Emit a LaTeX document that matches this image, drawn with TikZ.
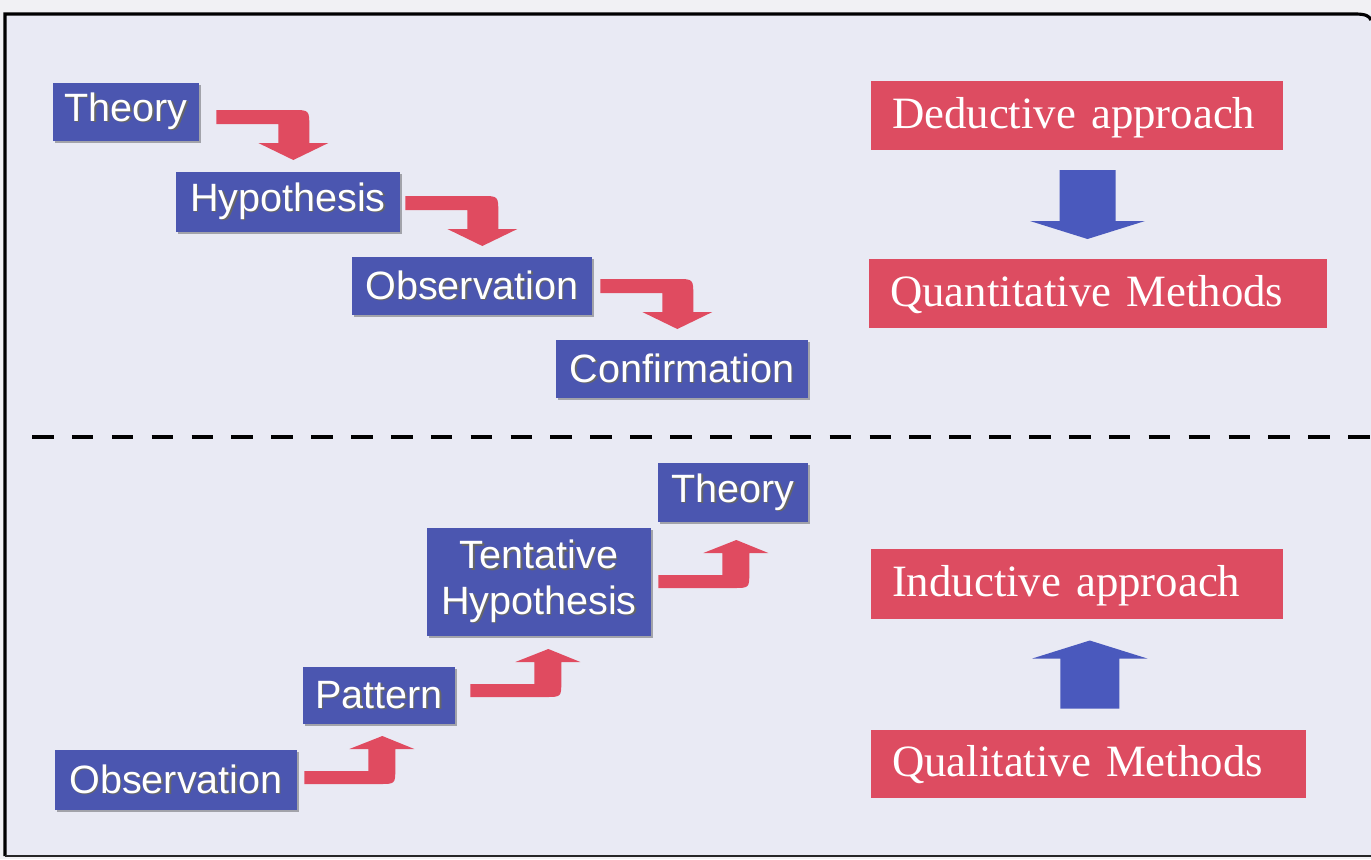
\documentclass[tikz,border=0pt]{standalone}
\usepackage{fontspec}
\setmainfont{Liberation Serif}
\newfontfamily\arialf{Liberation Sans}
\usetikzlibrary{calc,shadows}
\definecolor{paper}{HTML}{F1F1F4}
\definecolor{panel}{HTML}{E9EAF4}
\definecolor{boxblue}{HTML}{4B56B0}
\definecolor{boxred}{HTML}{DD4C61}
\definecolor{arrred}{HTML}{E04B60}
\definecolor{arrblue}{HTML}{4A59BD}
% white label with a soft dark shadow, as on the step boxes
\newcommand\emb[1]{\leavevmode\rlap{\kern0.8pt\raisebox{-0.8pt}{\textcolor{black!60}{#1}}}#1}
\begin{document}
\begin{tikzpicture}[x=0.02cm, y=-0.02cm,
  bluebox/.style={fill=boxblue, text=white, inner sep=0pt, align=center,
    font=\arialf\fontsize{22.5}{26}\selectfont,
    drop shadow={shadow xshift=1.1pt, shadow yshift=-1.1pt, fill=black, opacity=0.3}},
  redbox/.style={fill=boxred, text=white, inner xsep=0.42cm, inner ysep=0pt,
    minimum height=1.38cm, align=left, text width=#1,
    text height=0.595cm, text depth=0.08cm,
    font=\fontsize{25.5}{30}\selectfont},
  bentdown/.pic={\fill[arrred] (0,0) -- (76,0) .. controls (93,0) and (93,0) .. (93,17)
      -- (93,33) -- (112,33) -- (77,50) -- (42,33) -- (62,33) -- (62,14) -- (0,14) -- cycle;},
  bentup/.pic={\fill[arrred] (0,0) -- (75,0) .. controls (91,0) and (91,0) .. (91,-16)
      -- (91,-35) -- (110,-35) -- (78,-48) -- (45,-35) -- (64,-35) -- (64,-13) -- (0,-13) -- cycle;},
  blockdown/.pic={\fill[arrblue] (-28,-34.5) -- (28,-34.5) -- (28,16.5) -- (57.5,16.5)
      -- (0,34.5) -- (-57.5,16.5) -- (-28,16.5) -- cycle;},
  blockup/.pic={\fill[arrblue] (-29.5,34) -- (29.5,34) -- (29.5,-16) -- (57.5,-16)
      -- (0,-34) -- (-57.5,-16) -- (-29.5,-16) -- cycle;}
]
\useasboundingbox (0,0) rectangle (1371,859);
% page and panel
\fill[paper] (0,0) rectangle (1371,859);
\fill[panel] (5,14) rectangle (1371,856);
\draw[line width=1.8pt] (5,856) -- (5,14) -- (1355,14) .. controls (1366,14) and (1369,16) .. (1371,20);
\draw[line width=1.5pt, black!85] (5,856) -- (1371,856);
% divider between the two approaches
\draw[line width=2.3pt, dash pattern=on 12.3pt off 10.4pt] (32,437) -- (1371,437);

% deductive chain
\node[bluebox, minimum width=2.92cm, minimum height=1.16cm] (T1) at (126,112) {\emb{Theory}};
\node[bluebox, minimum width=4.48cm, minimum height=1.20cm] (H1) at (288,202) {\emb{Hypothesis}};
\node[bluebox, minimum width=4.80cm, minimum height=1.16cm] (O1) at (472,286) {\emb{Observation}};
\node[bluebox, minimum width=5.04cm, minimum height=1.16cm] (C1) at (682,369) {\emb{Confirmation}};
\pic at ([shift={(17,-2)}]T1.east) {bentdown};
\pic at ([shift={(5,-6)}]H1.east) {bentdown};
\pic at ([shift={(8,-7)}]O1.east) {bentdown};

% inductive chain
\node[bluebox, minimum width=4.84cm, minimum height=1.20cm] (O2) at (176,780) {\emb{Observation}};
\node[bluebox, minimum width=3.04cm, minimum height=1.14cm] (P) at (379,695.5) {\emb{Pattern}};
\node[bluebox, minimum width=4.48cm, minimum height=2.16cm] (TH) at (539,582) {\emb{Tentative}\\\emb{Hypothesis}};
\node[bluebox, minimum width=3.00cm, minimum height=1.18cm] (T2) at (733,492.5) {\emb{Theory}};
\pic at ([shift={(7,4)}]O2.east) {bentup};
\pic at ([shift={(15,1.5)}]P.east) {bentup};
\pic at ([shift={(7,6)}]TH.east) {bentup};

% approaches and methods
\node[redbox=7.40cm] (D) at (1077,115.5) {Deductive approach};
\node[redbox=8.32cm] (Q) at (1098,293.5) {Quantitative Methods};
\node[redbox=7.40cm, minimum height=1.40cm] (I) at (1077,584) {Inductive approach};
\node[redbox=7.86cm, minimum height=1.36cm] (QL) at (1088.5,764) {Qualitative Methods};
\pic at ($(D.south)!0.5!(Q.north)$) {blockdown};
\pic at ([xshift=4]$(I.south)!0.5!(QL.north)$) {blockup};
\end{tikzpicture}
\end{document}
